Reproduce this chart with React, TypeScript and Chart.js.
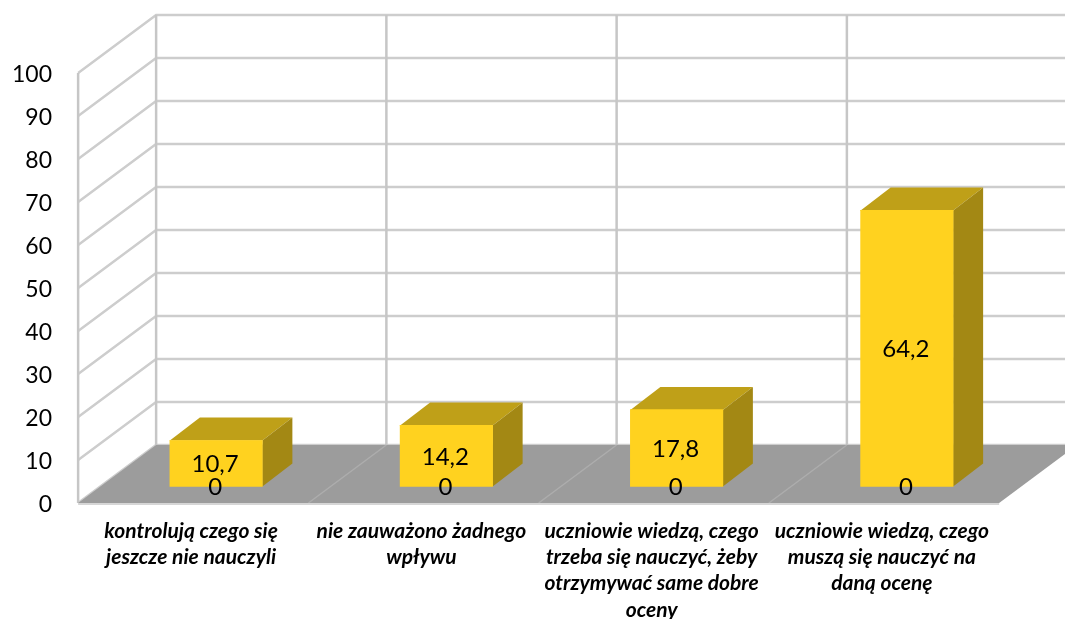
import React, { useEffect, useRef } from "react";
import { Chart, registerables } from "chart.js";

Chart.register(...registerables);

const categories = [
  ["kontrolują czego się", "jeszcze nie nauczyli"],
  ["nie zauważono żadnego", "wpływu"],
  ["uczniowie wiedzą, czego", "trzeba się nauczyć, żeby", "otrzymywać same dobre", "oceny"],
  ["uczniowie wiedzą, czego", "muszą się nauczyć na", "daną ocenę"],
];
const shareValues = [10.7, 14.2, 17.8, 64.2];
const zeroValues = [0, 0, 0, 0];

const FONT = "Lato, Carlito, Calibri, sans-serif";
const GRID = "#cdcdcd";
const FRONT = "#FFD21F";
const TOP = "#BFA018";
const SIDE = "#A38814";
const FLOOR = "#9C9C9C";

const WALL_DX = 78;
const WALL_DY = 58;
const BAR_DX = 30;
const BAR_DY = 23;

const scene3d = {
  id: "scene3d",
  beforeDatasetsDraw(chart: any) {
    const { ctx, scales, width } = chart;
    const ax = scales.yTicks;
    const xs = scales.x;
    const y0 = ax.getPixelForValue(0);
    const y100 = ax.getPixelForValue(100);
    const backOf = (i: number) => xs.getPixelForValue(i) - 60;
    const lastIndex = categories.length;
    const rightBack = backOf(lastIndex);

    ctx.save();
    ctx.lineWidth = 2.5;
    ctx.strokeStyle = GRID;

    // horizontal grid on back wall and slanted on side wall
    for (const t of ax.ticks) {
      const y = ax.getPixelForValue(t.value);
      ctx.beginPath();
      ctx.moveTo(backOf(0) - WALL_DX, y);
      ctx.lineTo(backOf(0), y - WALL_DY);
      ctx.lineTo(width, y - WALL_DY);
      ctx.stroke();
    }
    // vertical grid
    ctx.strokeStyle = "#c6c6c6";
    for (let i = 0; i < lastIndex; i++) {
      ctx.beginPath();
      ctx.moveTo(backOf(i), y100 - WALL_DY);
      ctx.lineTo(backOf(i), y0 - WALL_DY);
      ctx.stroke();
    }
    ctx.beginPath();
    ctx.moveTo(backOf(0) - WALL_DX, y100);
    ctx.lineTo(backOf(0) - WALL_DX, y0);
    ctx.stroke();

    // floor
    ctx.fillStyle = FLOOR;
    ctx.beginPath();
    ctx.moveTo(backOf(0) - WALL_DX, y0);
    ctx.lineTo(backOf(0), y0 - WALL_DY);
    ctx.lineTo(rightBack, y0 - WALL_DY);
    ctx.lineTo(rightBack - WALL_DX, y0);
    ctx.closePath();
    ctx.fill();

    // floor lines
    ctx.strokeStyle = "#adadad";
    ctx.lineWidth = 1.5;
    for (let i = 1; i < lastIndex; i++) {
      ctx.beginPath();
      ctx.moveTo(backOf(i), y0 - WALL_DY);
      ctx.lineTo(backOf(i) - WALL_DX, y0);
      ctx.stroke();
    }
    ctx.strokeStyle = "#d6d6d6";
    ctx.lineWidth = 2;
    ctx.beginPath();
    ctx.moveTo(backOf(0) - WALL_DX, y0 + 1);
    ctx.lineTo(rightBack - WALL_DX, y0 + 1);
    ctx.stroke();

    // bar top and side faces
    const meta = chart.getDatasetMeta(0);
    for (const el of meta.data) {
      const p = el.getProps(["x", "y", "base", "width"], true);
      const l = p.x - p.width / 2;
      const r = p.x + p.width / 2;
      ctx.fillStyle = TOP;
      ctx.beginPath();
      ctx.moveTo(l, p.y);
      ctx.lineTo(l + BAR_DX, p.y - BAR_DY);
      ctx.lineTo(r + BAR_DX, p.y - BAR_DY);
      ctx.lineTo(r, p.y);
      ctx.closePath();
      ctx.fill();
      ctx.fillStyle = SIDE;
      ctx.beginPath();
      ctx.moveTo(r, p.y);
      ctx.lineTo(r + BAR_DX, p.y - BAR_DY);
      ctx.lineTo(r + BAR_DX, p.base - BAR_DY);
      ctx.lineTo(r, p.base);
      ctx.closePath();
      ctx.fill();
    }
    ctx.restore();
  },
  afterDatasetsDraw(chart: any) {
    const { ctx, scales } = chart;
    ctx.save();
    ctx.fillStyle = "#000";
    ctx.font = `24px ${FONT}`;
    ctx.textAlign = "center";
    ctx.textBaseline = "middle";
    const base = scales.y.getPixelForValue(0);
    chart.data.datasets.forEach((ds: any, d: number) => {
      chart.getDatasetMeta(d).data.forEach((el: any, i: number) => {
        const text = String(ds.data[i]).replace(".", ",");
        const y = d === 0 ? (scales.y.getPixelForValue(ds.data[i]) + base) / 2 : base;
        ctx.fillText(text, el.x - 1, y + 1);
      });
    });
    ctx.restore();
  },
};

export default function App() {
  const ref = useRef<HTMLCanvasElement>(null);
  useEffect(() => {
    const chart = new Chart(ref.current as HTMLCanvasElement, {
      type: "bar",
      plugins: [scene3d],
      data: {
        labels: categories as any,
        datasets: [
          { data: shareValues, backgroundColor: FRONT, borderWidth: 0, barThickness: 92.5, yAxisID: "y" },
          { data: zeroValues, backgroundColor: FRONT, borderWidth: 0, barThickness: 92.5, yAxisID: "y" },
        ],
      },
      options: {
        responsive: false,
        animation: false,
        layout: { padding: { top: 73, right: 43, left: 0, bottom: 0 } },
        plugins: { legend: { display: false }, tooltip: { enabled: false }, title: { display: false } },
        scales: {
          x: {
            stacked: true,
            grid: { display: false },
            border: { display: false },
            afterFit: (s: any) => { s.height = 116; },
            ticks: {
              autoSkip: false,
              maxRotation: 0,
              minRotation: 0,
              padding: 7,
              labelOffset: -25,
              color: "#000",
              font: { family: FONT, size: 21, style: "italic", weight: "bold", lineHeight: 1.25 },
            },
          },
          y: { display: false, stacked: true, min: -3.84, max: 96.16 },
          yTicks: {
            position: "left",
            min: 0,
            max: 100,
            grid: { display: false, drawTicks: false },
            border: { display: false },
            afterFit: (s: any) => { s.width = 101; },
            ticks: {
              stepSize: 10,
              padding: 49,
              labelOffset: 2,
              color: "#000",
              font: { family: FONT, size: 23 },
            },
          },
        },
      } as any,
    });
    return () => chart.destroy();
  }, []);
  return (
    <div style={{ position: "absolute", left: 0, top: 0, width: 1065, height: 619, background: "#fff" }}>
      <canvas ref={ref} width={1065} height={619} style={{ display: "block" }} />
    </div>
  );
}
